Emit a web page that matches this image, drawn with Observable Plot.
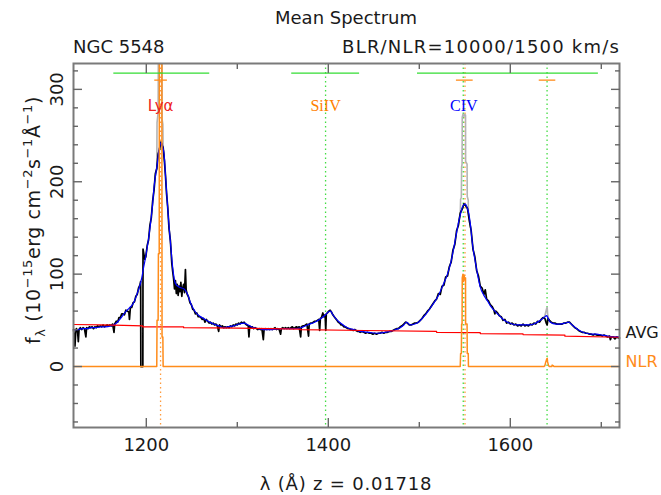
<!DOCTYPE html>
<html>
<head>
<meta charset="utf-8">
<script src="https://cdn.jsdelivr.net/npm/d3@7"></script>
<script src="https://cdn.jsdelivr.net/npm/@observablehq/plot@0.6"></script>
<style>
  html, body { margin: 0; padding: 0; background: #fff; }
  svg { display: block; }
</style>
</head>
<body>
<div id="chart"></div>
<script>
// NGC 5548 mean UV spectrum: rest wavelength (Å) vs flux (1e-15 erg cm^-2 s^-1 Å^-1)

// observed mean spectrum
const observed = [[1120,40],[1120.8,34],[1121.6,22],[1122.4,36],[1123.2,41],[1124.5,38],[1125.3,27],[1126.1,40],[1127.5,42],[1129,40],[1130.5,42],[1132,41],[1133.6,32],[1134.4,42],[1136,41],[1137.5,43],[1139,42],[1140.5,43],[1142,41],[1143.5,43],[1145,42],[1146.5,44],[1148,43],[1149.5,44],[1151,43],[1152.5,45],[1154,43],[1155.5,44],[1157,45],[1158.5,44],[1160,45],[1161.5,44],[1163,46],[1164.5,37],[1165.3,46],[1167,49],[1168.5,48],[1170,53],[1171.5,53],[1173,57],[1174.5,57],[1176,56],[1177.5,61],[1179,60],[1180.8,59],[1181.5,51],[1182.5,64],[1184,64],[1185.5,69],[1187,70],[1188.5,76],[1190,78],[1191.5,85],[1193,88],[1193.8,92],[1194,0],[1196.2,0],[1196.4,127],[1197.3,122],[1198.3,116],[1199.5,119],[1201,131],[1202.5,137],[1204,153],[1205.5,161],[1207,179],[1208.5,191],[1210,209],[1211.5,214],[1213,230],[1214.5,235],[1216,243],[1217.2,240],[1218.5,237],[1219.8,224],[1221,208],[1222.2,188],[1223.5,173],[1225,149],[1226.5,136],[1228,112],[1229,103],[1230,95],[1231,84],[1232,93],[1233,79],[1234,89],[1235,77],[1236,87],[1237,81],[1238,91],[1239,76],[1240,85],[1241,89],[1242,80],[1243,105],[1243.8,83],[1245,78],[1246.5,75],[1248,69],[1249.5,67],[1251,62],[1252.5,61],[1254,57],[1255.5,58],[1257,54],[1258.5,54],[1260,53],[1261.5,51],[1263,52],[1264.5,48],[1266,51],[1267.5,49],[1269,47],[1270.5,48],[1272,46],[1273.5,47],[1275,45],[1276.5,46],[1278,44],[1279.5,38],[1280.5,45],[1282,43],[1283.5,44],[1285,42],[1286.5,43],[1288,42],[1289.5,43],[1291,42],[1292.5,44],[1294,43],[1295.5,45],[1297,44],[1298.5,46],[1300,45],[1301.5,47],[1303,46],[1304.5,48],[1306,47],[1307.5,48],[1309,46],[1310.5,45],[1312,44],[1312.8,32],[1313.6,44],[1315,42],[1316.5,43],[1318,41],[1319.5,42],[1321,41],[1322.5,40],[1324,41],[1325.5,40],[1327,41],[1328.6,29],[1329.4,40],[1331,41],[1332.5,40],[1334,41],[1335.5,40],[1337,41],[1338.5,40],[1340,41],[1341.5,42],[1343,40],[1344.5,41],[1346,40],[1347.6,35],[1348.4,41],[1350,42],[1351.5,41],[1353,42],[1354.5,41],[1356,42],[1357.5,41],[1359,42],[1360.5,43],[1362,41],[1363.5,42],[1365,43],[1366.5,42],[1368,43],[1369.6,32],[1370.4,43],[1372,44],[1373.5,44],[1375,45],[1376.5,46],[1378.3,33],[1379,46],[1380.5,47],[1382,47],[1383.5,48],[1385,49],[1386.5,49],[1388,50],[1389.5,51],[1390.5,39],[1391.3,52],[1392.5,53],[1394,58],[1395,54],[1396.5,56],[1397.2,39],[1397.8,57],[1399,58],[1400.5,60],[1402,61],[1403.5,59],[1405,56],[1406.5,54],[1408,52],[1409.5,50],[1411,48],[1412.5,47],[1414,45],[1415.5,45],[1417,43],[1418.5,43],[1420,42],[1421.5,41],[1423,41],[1424.5,40],[1426,40],[1427.5,39],[1429,40],[1430.5,39],[1432,38],[1433.5,38],[1435,37],[1437,38],[1439,37],[1441,36],[1443,37],[1445,36],[1447,36],[1449,35],[1451,36],[1453,35],[1455,36],[1457,36],[1459,37],[1461,36],[1463,37],[1465,37],[1467,38],[1469,38],[1471,39],[1473,40],[1475,41],[1477,41],[1479,43],[1481,44],[1483,46],[1485,48],[1487,47],[1489,45],[1491,45],[1493,46],[1495,47],[1497,47],[1499,48],[1501,50],[1503,52],[1505,55],[1507,57],[1509,60],[1511,62],[1513,65],[1515,68],[1517,71],[1519,73],[1521,79],[1523,78],[1525,87],[1527,88],[1529,97],[1531,98],[1533,108],[1535,113],[1537,126],[1539,132],[1541,147],[1543,153],[1545,166],[1547,170],[1549,176],[1551,174],[1553,171],[1555,158],[1557,147],[1559,127],[1561,119],[1563,104],[1565,98],[1567,87],[1569,85],[1571,78],[1572.5,83],[1574,73],[1576,71],[1578,67],[1580,65],[1582,61],[1583,57],[1584,60],[1586,58],[1588,55],[1590,54],[1592,50],[1594,51],[1596,47],[1598,48],[1600,46],[1602,47],[1604,45],[1606,46],[1608,44],[1610,45],[1612,44],[1614,46],[1616,44],[1618,45],[1620,44],[1622,46],[1624,45],[1626,47],[1628,46],[1630,49],[1632,48],[1634,51],[1636,53],[1638,52],[1639.5,47],[1640.5,45],[1641.5,52],[1643,50],[1645,48],[1647,47],[1649,47],[1651,46],[1653,46],[1655,46],[1657,46],[1659,47],[1661,47],[1663,48],[1665,48],[1667,46],[1669,44],[1671,42],[1673,41],[1675,39],[1677,38],[1679,37],[1681,37],[1683,36],[1685,36],[1687,35],[1689,35],[1691,34],[1693,35],[1695,34],[1697,34],[1699,34],[1701,33],[1703,34],[1705,33],[1707,32],[1709,33],[1710,29],[1711,32],[1713,32],[1715,30],[1717,32],[1719,31],[1720,31]];

// broad-line (BLR) model fit
const blrModel = [[1120,40],[1125,40],[1130,41],[1135,41],[1140,42],[1145,42],[1150,43],[1155,43],[1161,44],[1166,46],[1170,50],[1174,55],[1177,59],[1181,63],[1184,66],[1187,71],[1190,79],[1193,88],[1195,96],[1197,107],[1199,117],[1201,129],[1203,142],[1205,158],[1207,176],[1208.5,194],[1210,206],[1212,219],[1213.7,233],[1215.2,240],[1216.6,243],[1218,238],[1219.5,230],[1221.3,204],[1223.2,176],[1225,152],[1227,129],[1229,107],[1232,90],[1236,86],[1241.5,84],[1245,79],[1249,68],[1254,59],[1258,55],[1263,52],[1268,49],[1274,46],[1280,44],[1285,42],[1290,43],[1296,44],[1302,46],[1307,47],[1312,45],[1318,42],[1323,41],[1329,40],[1338,40],[1348,41],[1360,41],[1370,42],[1377,45],[1385,48],[1392,52],[1397,56],[1400,59],[1402.5,60],[1405,56],[1410,50],[1415,46],[1421,42],[1428,40],[1435,38],[1445,37],[1454,36],[1462,37],[1468,38],[1474,40],[1479,42],[1483,45],[1486,48],[1490,45],[1495,46],[1499,48],[1504,53],[1509,59],[1514,66],[1520,75],[1526,88],[1531,100],[1535,114],[1538,129],[1541,145],[1543.5,158],[1545.5,166],[1547.5,173],[1550.5,176],[1552.5,172],[1554.5,165],[1556.5,151],[1558,136],[1560,122],[1562,111],[1564.5,97],[1567,86],[1571,77],[1575,71],[1578,66],[1582,61],[1586,57],[1591,52],[1597,48],[1602,46],[1608,45],[1615,45],[1622,45],[1628,47],[1633,50],[1637,53],[1640,55],[1642,51],[1644,48],[1650,46],[1655,46],[1660,47],[1664,48],[1668,45],[1673,41],[1678,38],[1684,36],[1690,35],[1695,35],[1701,34],[1707,33],[1714,32],[1720,32]];

// total model (broad + narrow) around the narrow lines
const totalModel = [
  [1210,206,"Lya"],[1211.5,214,"Lya"],[1211.8,264,"Lya"],[1213,275,"Lya"],[1213.3,350,"Lya"],[1214.2,355,"Lya"],[1214.5,520,"Lya"],[1217,520,"Lya"],[1217.3,268,"Lya"],[1218.2,262,"Lya"],[1218.5,236,"Lya"],[1220,222,"Lya"],
  [1543,155,"CIV"],[1545,165,"CIV"],[1545.4,181,"CIV"],[1546.2,183,"CIV"],[1546.5,216,"CIV"],[1547,219,"CIV"],[1547.2,270,"CIV"],[1548,273,"CIV"],[1549,271,"CIV"],[1550,273,"CIV"],[1550.8,272,"CIV"],[1550.9,222,"CIV"],[1552.5,219,"CIV"],[1552.7,184,"CIV"],[1553.8,180,"CIV"],[1554,166,"CIV"],[1556,151,"CIV"],
  [1635,52,"HeII"],[1637,53,"HeII"],[1638,55,"HeII"],[1639,59,"HeII"],[1640,63,"HeII"],[1640.5,64,"HeII"],[1641,57,"HeII"],[1642,52,"HeII"],[1644,48,"HeII"]
];

// narrow-line (NLR) profile
const nlrProfile = [[1120,0],[1211.5,0],[1211.8,50],[1213,50],[1213.3,122],[1214.2,122],[1214.5,520],[1217,520],[1217.3,32],[1218.2,32],[1218.5,0],[1545,0],[1545.4,14],[1546.2,14],[1546.5,46],[1547,46],[1547.2,96],[1548,100],[1548.6,92],[1549.2,99],[1550,94],[1550.8,96],[1550.9,46],[1552.5,46],[1552.7,14],[1553.8,14],[1554,0],[1637,0],[1638,1],[1639,5],[1640,8],[1640.5,9],[1641,5],[1642,1],[1643,0],[1645.5,0],[1646,1.5],[1647,1],[1648,0],[1720,0]];

// averaged continuum
const continuum = [[1120,45.5],[1150,45],[1175,44.5],[1196,44],[1196,43],[1241,43],[1241,42],[1300,41.5],[1369,40.5],[1369,40],[1440,39],[1519,38],[1519,37],[1567,36.8],[1567,35.7],[1614,35.3],[1614,34.6],[1660,34],[1660,32.8],[1720,31.7]];

// continuum fitting windows [start, end, flux level]
const fitWindows = [[1164.3,1269.7,317.5],[1359.8,1434.4,317.5],[1498,1696.8,317.5]];
// narrow-line width markers [start, end, flux level]
const nlrWidths = [[1209.3,1223.2,310],[1540.8,1559.2,310],[1631.8,1650,310]];

// emission line identifications
const sansLabels = [{name: "Lyα", wave: 1215.67, color: "#ee2222"}];
const serifLabels = [{name: "SiIV", wave: 1397, color: "#ff8000"}, {name: "CIV", wave: 1549, color: "#0000ff"}];
const markerLines = [{wave: 1215.67, color: "#ff9a3c"}, {wave: 1397, color: "#44dd44"}, {wave: 1548.3, color: "#44dd44"}, {wave: 1550.2, color: "#ff9a3c"}, {wave: 1640.4, color: "#44dd44"}];

// axis ticks
const xMajor = [1200, 1400, 1600];
const xMinor = [1300, 1500, 1700];
const yMajor = [0, 100, 200, 300];
const yMinor = [-60, -40, -20, 20, 40, 60, 80, 120, 140, 160, 180, 220, 240, 260, 280, 320];

const orange = "#ff8c1a";
const green = "#33dd33";
const axisColor = "#666";
const wx = d => d[0], fy = d => d[1];

const tickAxes = [];
for (const anchor of ["bottom", "top"]) {
  tickAxes.push(Plot.axisX(xMajor, {anchor, tickSize: -9, fill: "none", label: null, stroke: axisColor, strokeWidth: 1.4}));
  tickAxes.push(Plot.axisX(xMinor, {anchor, tickSize: -5, fill: "none", label: null, stroke: axisColor, strokeWidth: 1.4}));
}
for (const anchor of ["left", "right"]) {
  tickAxes.push(Plot.axisY(yMajor, {anchor, tickSize: -9, fill: "none", label: null, stroke: axisColor, strokeWidth: 1.4}));
  tickAxes.push(Plot.axisY(yMinor, {anchor, tickSize: -5, fill: "none", label: null, stroke: axisColor, strokeWidth: 1.4}));
}

const chart = Plot.plot({
  width: 661,
  height: 495,
  marginLeft: 73,
  marginRight: 42,
  marginTop: 63,
  marginBottom: 68,
  style: {fontFamily: "DejaVu Sans", fontSize: "18px", color: "#1a1a1a", background: "#fff"},
  x: {domain: [1120, 1720]},
  y: {domain: [-66, 328]},
  marks: [
    Plot.ruleX(markerLines, {x: "wave", stroke: "color", strokeWidth: 1.3, strokeDasharray: "1.5,3"}),
    Plot.line(totalModel, {x: wx, y: fy, z: d => d[2], stroke: "#b4b4b4", strokeWidth: 1.6, clip: true}),
    Plot.line(observed, {x: wx, y: fy, stroke: "#000", strokeWidth: 1.7}),
    Plot.line(blrModel, {x: wx, y: fy, stroke: "#0000ff", strokeWidth: 1.2, curve: "monotone-x"}),
    Plot.line(continuum, {x: wx, y: fy, stroke: "#ff0000", strokeWidth: 1.2}),
    Plot.line(nlrProfile, {x: wx, y: fy, stroke: orange, strokeWidth: 1.5, clip: true}),
    Plot.ruleY(fitWindows, {x1: d => d[0], x2: d => d[1], y: d => d[2], stroke: green, strokeWidth: 1.3}),
    Plot.ruleY(nlrWidths, {x1: d => d[0], x2: d => d[1], y: d => d[2], stroke: orange, strokeWidth: 1.3}),
    Plot.text(sansLabels, {x: "wave", text: "name", fill: "color", frameAnchor: "top", dy: 47, lineAnchor: "bottom", fontSize: 15, fontFamily: "DejaVu Sans"}),
    Plot.text(serifLabels, {x: "wave", text: "name", fill: "color", frameAnchor: "top", dy: 47, lineAnchor: "bottom", fontSize: 16, fontFamily: "Liberation Serif"}),
    Plot.text(["AVG"], {y: () => observed[observed.length - 1][1], text: d => d, frameAnchor: "right", dx: 6, textAnchor: "start", lineAnchor: "bottom", fill: "#1a1a1a", fontSize: 16}),
    Plot.text(["NLR"], {y: () => nlrProfile[nlrProfile.length - 1][1], text: d => d, frameAnchor: "right", dx: 6, textAnchor: "start", lineAnchor: "bottom", fill: orange, fontSize: 16}),
    Plot.frame({stroke: "#7a7a7a", strokeWidth: 2}),
    ...tickAxes,
    Plot.axisX(xMajor, {anchor: "bottom", tickSize: 0, tickPadding: 11, label: null, fontSize: 18, tickFormat: d => String(d)}),
    Plot.text(yMajor, {y: d => d, text: d => String(d), frameAnchor: "left", rotate: -90, dx: -11, textAnchor: "middle", lineAnchor: "bottom", fontSize: 18, fill: "#1a1a1a"})
  ]
});

document.getElementById("chart").appendChild(chart);

// titles and axis labels
const svg = d3.select(chart);
const ink = "#1a1a1a";
svg.append("text").attr("x", 346).attr("y", 23.5).attr("text-anchor", "middle")
  .attr("font-size", 18).attr("fill", ink).text("Mean Spectrum");
svg.append("text").attr("x", 73).attr("y", 52.5).attr("text-anchor", "start")
  .attr("font-size", 18).attr("fill", ink).text("NGC 5548");
svg.append("text").attr("x", 620).attr("y", 52.5).attr("text-anchor", "end")
  .attr("font-size", 18).attr("letter-spacing", 1.2).attr("fill", ink).text("BLR/NLR=10000/1500 km/s");
svg.append("text").attr("x", 346).attr("y", 490).attr("text-anchor", "middle")
  .attr("font-size", 18).attr("letter-spacing", 0.8).attr("fill", ink).text("λ (Å) z = 0.01718");

const yl = svg.append("text").attr("transform", "translate(40,220) rotate(-90)")
  .attr("text-anchor", "middle").attr("font-size", 19).attr("letter-spacing", 0.6).attr("fill", ink);
const parts = [
  ["f", 0, 19], ["λ", 5, 13], [" (10", -5, 19], ["−15", -8, 13], ["erg cm", 8, 19],
  ["−2", -8, 13], ["s", 8, 19], ["−1", -8, 13], ["Å", 8, 19], ["−1", -8, 13], [")", 8, 19]
];
for (const [t, dy, fs] of parts) {
  yl.append("tspan").attr("dy", dy).attr("font-size", fs).text(t);
}
</script>
</body>
</html>
